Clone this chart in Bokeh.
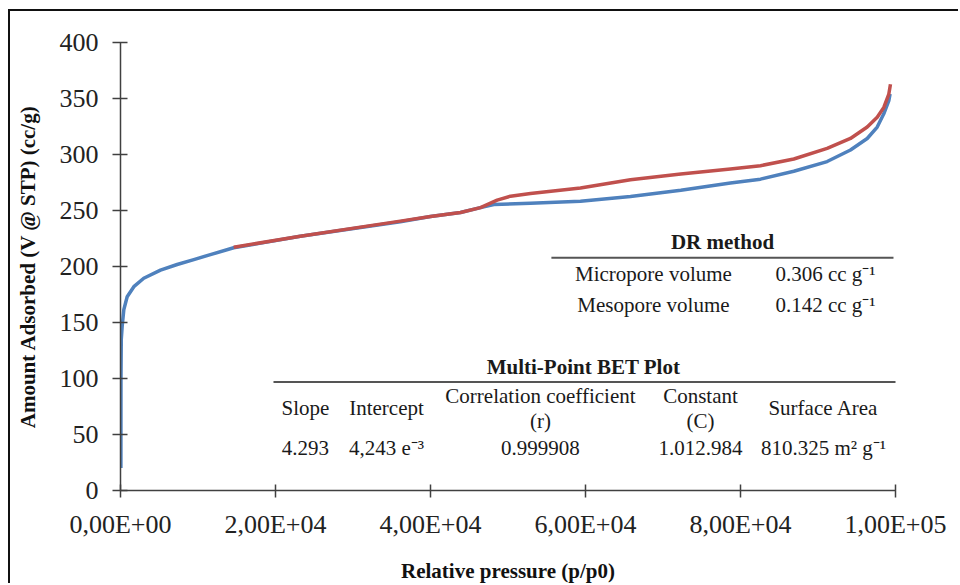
from bokeh.plotting import figure
from bokeh.models import FixedTicker, ColumnDataSource, Range1d
from bokeh.core.properties import value
from bokeh.embed import file_html
from bokeh.resources import INLINE

# ---- data ----
blue_x = [50, 60, 100, 220, 430, 860, 1720, 3000, 5160, 7310, 9460, 11600, 14600,
          23200, 36100, 40000, 43870, 46450, 48170, 52900, 59350, 65800, 72300, 78700,
          82580, 86880, 91180, 94190, 96350, 97640, 98490, 99140, 99300]
blue_y = [20, 100, 135, 147, 161.5, 173, 182, 189.5, 196.7, 201.8, 206.2, 210.6, 216.7,
          227, 240, 244.6, 248.2, 252.6, 255.3, 256.4, 258.3, 262.5, 268, 274.5,
          278, 285, 293.7, 304, 314.3, 324.5, 336.3, 348, 354]

red_x = [14600, 23200, 36100, 40000, 43870, 46450, 48600, 50320, 52900, 59350, 65800,
         72300, 78700, 82580, 86880, 91180, 94190, 96350, 97640, 98490, 99140, 99350]
red_y = [217.2, 227, 240.5, 244.6, 248.2, 252.6, 259.3, 262.8, 265.2, 270, 277.5,
         282.5, 287, 290, 296, 305.4, 314.3, 324.5, 333.3, 342, 354, 362.7]

x_ticks = [0, 20000, 40000, 60000, 80000, 100000]
x_tick_labels = ["0,00E+00", "2,00E+04", "4,00E+04", "6,00E+04", "8,00E+04", "1,00E+05"]
y_ticks = [0, 50, 100, 150, 200, 250, 300, 350, 400]

dr_title = "DR method"
dr_names = ["Micropore volume", "Mesopore volume"]
dr_values = ["0.306 cc g\u207b\u00b9", "0.142 cc g\u207b\u00b9"]

bet_title = "Multi-Point BET Plot"
bet_headers_single = ["Slope", "Intercept", "Surface Area"]
bet_headers_top = ["Correlation coefficient", "Constant"]
bet_headers_bottom = ["(r)", "(C)"]
bet_values = ["4.293", "4,243 e\u207b\u00b3", "0.999908", "1.012.984", "810.325 m\u00b2 g\u207b\u00b9"]

# ---- annotation positions (data units) ----
bet_col_x = [23870, 34320, 54190, 74840, 90710]
FONT = "Liberation Serif"

p = figure(width=950, height=574, output_backend="svg", toolbar_location=None,
           x_range=Range1d(0, 100000), y_range=Range1d(0, 400),
           min_border_left=110, min_border_right=65, min_border_top=31, min_border_bottom=90)
p.styles = {"border-left": "2px solid #111", "border-top": "2px solid #111",
            "margin-left": "8px", "margin-top": "9px"}
p.outline_line_color = None
p.grid.visible = False
p.background_fill_color = "white"
p.border_fill_color = "white"

# curves
p.line(blue_x, blue_y, line_color="#4F81BD", line_width=3.5, line_join="round")
p.line(red_x, red_y, line_color="#C0504D", line_width=3.5, line_join="round")

# axes
for ax in (p.xaxis[0], p.yaxis[0]):
    ax.axis_line_color = "#404040"
    ax.axis_line_width = 1.5
    ax.major_tick_line_color = "#404040"
    ax.major_tick_line_width = 1.5
    ax.minor_tick_line_color = None
    ax.major_label_text_font = FONT
    ax.major_label_text_font_size = "26px"
    ax.major_label_text_color = "#222222"
    ax.axis_label_text_font = FONT
    ax.axis_label_text_font_size = "21px"
    ax.axis_label_text_font_style = "bold"
    ax.axis_label_text_color = "#111111"

p.xaxis.ticker = FixedTicker(ticks=x_ticks)
p.xaxis.major_label_overrides = {t: l for t, l in zip(x_ticks, x_tick_labels)}
p.xaxis.major_tick_in = 6
p.xaxis.major_tick_out = 7
p.xaxis.major_label_standoff = 12
p.xaxis.axis_label = "Relative pressure (p/p0)"
p.xaxis.axis_label_standoff = 17

p.yaxis.ticker = FixedTicker(ticks=y_ticks)
p.yaxis.major_tick_in = 7
p.yaxis.major_tick_out = 8
p.yaxis.major_label_standoff = 14
p.yaxis.axis_label = "Amount Adsorbed (V @ STP) (cc/g)"
p.yaxis.axis_label_standoff = 17

def txt(xs, ys, texts, align="center", bold=False):
    src = ColumnDataSource(dict(x=xs, y=ys, t=texts))
    p.text(x="x", y="y", text="t", source=src, text_font=value(FONT),
           text_font_size="21px", text_align=align, text_baseline="middle",
           text_color="#1a1a1a", text_font_style="bold" if bold else "normal")

# DR table
txt([77680], [222], [dr_title], bold=True)
p.line([55600, 99740], [207.9, 207.9], line_color="#555555", line_width=2)
txt([68770, 68770], [193, 165.6], dr_names)
txt([84500, 84500], [193, 165.6], dr_values, align="left")

# BET table
txt([59740], [110], [bet_title], bold=True)
p.line([19740, 100260], [96.9, 96.9], line_color="#555555", line_width=2)
txt([bet_col_x[0], bet_col_x[1], bet_col_x[4]], [73.4] * 3, bet_headers_single)
txt([bet_col_x[2], bet_col_x[3]], [84.3] * 2, bet_headers_top)
txt([bet_col_x[2], bet_col_x[3]], [61.7] * 2, bet_headers_bottom)
txt(bet_col_x, [38.2] * 5, bet_values)

open("out.html", "w").write(file_html(p, INLINE))
